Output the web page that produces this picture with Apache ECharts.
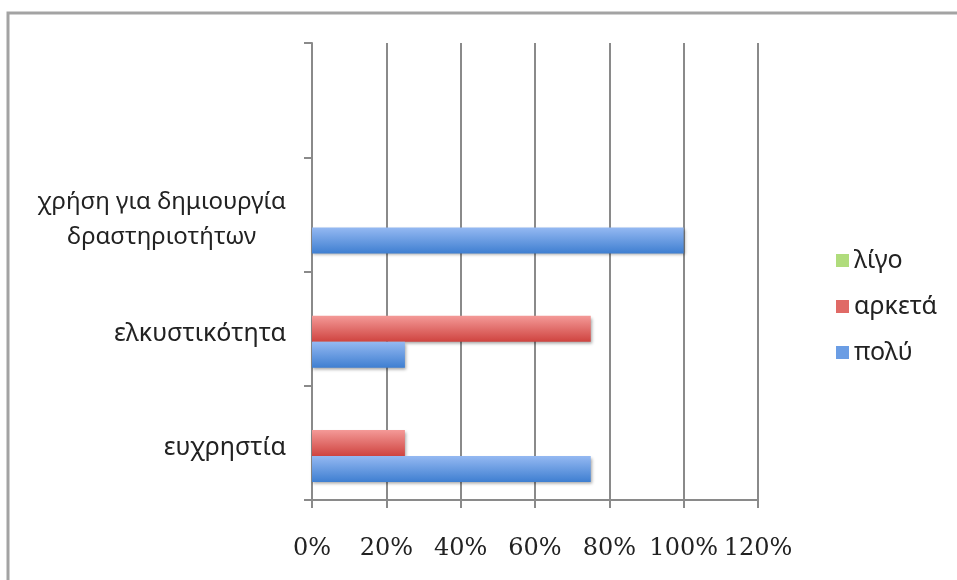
<!DOCTYPE html>
<html>
<head>
<meta charset="utf-8">
<script src="https://cdn.jsdelivr.net/npm/echarts@6/dist/echarts.min.js"></script>
<style>html,body{margin:0;padding:0;background:#fff}#c{width:957px;height:580px}</style>
</head>
<body>
<div id="c"></div>
<script>
var categories = ['ευχρηστία', 'ελκυστικότητα', 'χρήση για δημιουργία\nδραστηριοτήτων', ''];
var seriesNames = ['λίγο', 'αρκετά', 'πολύ'];
var ligo = [0, 0, 0, null];
var arketa = [25, 75, 0, null];
var poly = [75, 25, 100, null];
var xTicks = [0, 20, 40, 60, 80, 100, 120];

var FONT = '"Noto Sans", "Open Sans", sans-serif';
var SERIF = '"DejaVu Serif", "Liberation Serif", serif';
function grad(top, bottom) {
  return new echarts.graphic.LinearGradient(0, 0, 0, 1, [
    {offset: 0, color: top}, {offset: 1, color: bottom}
  ]);
}
var colors = [grad('#c4e89a', '#8fc44e'), grad('#f49a98', '#cf4440'), grad('#95b9f2', '#3f7fd1')];
var legendColors = ['#b0dc7c', '#e06a66', '#6b9de4'];
var values = [ligo, arketa, poly];

var chart = echarts.init(document.getElementById('c'));
chart.setOption({
  animation: false,
  textStyle: {fontFamily: FONT},
  graphic: [{
    type: 'polyline',
    shape: {points: [[8, 580], [8, 13], [957, 13]]},
    style: {stroke: '#a3a3a3', lineWidth: 3, fill: null},
    silent: true
  }],
  grid: {left: 312, right: 199, top: 43, bottom: 80, containLabel: false},
  legend: {
    orient: 'vertical',
    left: 831,
    top: 243,
    itemWidth: 13,
    itemHeight: 13,
    itemGap: 21,
    data: seriesNames.map(function (n, i) {
      return {name: n, icon: 'rect', itemStyle: {color: legendColors[i]}};
    }),
    textStyle: {fontSize: 25, lineHeight: 25, color: '#222', fontFamily: FONT}
  },
  xAxis: {
    type: 'value',
    min: xTicks[0],
    max: xTicks[xTicks.length - 1],
    interval: 20,
    axisLine: {show: true, lineStyle: {color: '#8a8a8a', width: 2}},
    axisTick: {show: true, length: 8, lineStyle: {color: '#8a8a8a', width: 2}},
    splitLine: {show: true, lineStyle: {color: '#8a8a8a', width: 2}},
    axisLabel: {formatter: '{value}%', fontSize: 24, color: '#222', margin: 37, fontFamily: SERIF}
  },
  yAxis: {
    type: 'category',
    data: categories,
    axisLine: {show: true, lineStyle: {color: '#8a8a8a', width: 2}},
    axisTick: {show: true, length: 8, lineStyle: {color: '#8a8a8a', width: 2}},
    axisLabel: {
      fontSize: 25, color: '#222', margin: 26, lineHeight: 35,
      padding: [10, 0, 0, 0],
      formatter: function (v) {
        return v.indexOf('\n') >= 0 ? '{c|' + v + '}' : v;
      },
      rich: {c: {align: 'center', fontSize: 24, lineHeight: 35, color: '#222', fontFamily: FONT}}
    }
  },
  series: seriesNames.map(function (n, i) {
    return {
      name: n,
      type: 'bar',
      data: values[i],
      barWidth: 26,
      barGap: '0%',
      itemStyle: {
        color: colors[i],
        shadowColor: 'rgba(0,0,0,0.35)',
        shadowBlur: 3,
        shadowOffsetX: 1,
        shadowOffsetY: 2
      }
    };
  })
});
</script>
</body>
</html>
